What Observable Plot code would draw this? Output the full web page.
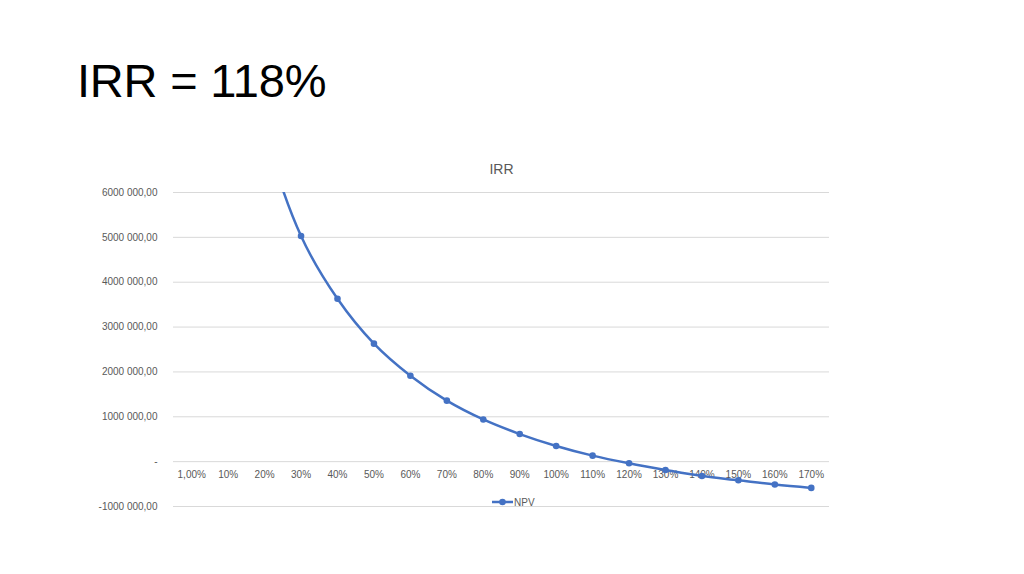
<!DOCTYPE html>
<html>
<head>
<meta charset="utf-8">
<script src="https://cdn.jsdelivr.net/npm/d3@7"></script>
<script src="https://cdn.jsdelivr.net/npm/@observablehq/plot@0.6"></script>
<style>
  html, body { margin: 0; padding: 0; background: #fff; }
  #wrap { position: relative; width: 1024px; height: 574px; overflow: hidden; font-family: "Liberation Sans", Arial, sans-serif; }
  #title { position: absolute; left: 77px; top: 57px; font-size: 47px; color: #000; line-height: 1; letter-spacing: -0.2px; }
  #legend { position: absolute; left: 491px; top: 495px; font-size: 10px; color: #595959; display: flex; align-items: center; }
  #chart { position: absolute; left: 0; top: 0; }
</style>
</head>
<body>
<div id="wrap">
  <div id="chart"></div>
  <div id="title">IRR = 118%</div>
  <div id="legend"><svg width="23" height="14"><line x1="1" y1="7" x2="22" y2="7" stroke="#4472C4" stroke-width="2.5"/><circle cx="11.5" cy="7" r="3.3" fill="#4472C4"/></svg><span>NPV</span></div>
</div>
<script>
const categories = ["1,00%", "10%", "20%", "30%", "40%", "50%", "60%", "70%", "80%", "90%", "100%", "110%", "120%", "130%", "140%", "150%", "160%", "170%"];
const npv = [17000000, 11500000, 7400000, 5030000, 3630000, 2630000, 1915000, 1360000, 940000, 615000, 350000, 134000, -37000, -185000, -320000, -415000, -510000, -585000];
const yTicks = [-1000000, 0, 1000000, 2000000, 3000000, 4000000, 5000000, 6000000];
const chartTitle = "IRR";

const data = categories.map((c, i) => ({rate: c, npv: npv[i]}));

function fmt(d) {
  if (d === 0) return "-";
  const sign = d < 0 ? "-" : "";
  const s = Math.abs(d);
  return `${sign}${Math.floor(s / 1000)} ${String(s % 1000).padStart(3, "0")},00`;
}

const blue = "#4472C4";
const grey = "#595959";

const chart = Plot.plot({
  width: 1024,
  height: 574,
  marginLeft: 173,
  marginRight: 195,
  marginTop: 192,
  marginBottom: 68,
  style: {fontFamily: "'Liberation Sans', Arial, sans-serif", fontSize: "10px", color: grey, background: "transparent"},
  x: {type: "point", domain: categories, padding: 0.5, round: false, axis: null},
  y: {domain: [-1000000, 6000000], axis: null},
  marks: [
    Plot.ruleY(yTicks, {stroke: "#d9d9d9", strokeWidth: 1}),
    Plot.axisY(yTicks, {tickFormat: fmt, tickSize: 0, tickPadding: 16, fill: grey, fontSize: 10, label: null}),
    Plot.text(categories, {x: d => d, y: () => 0, dy: 13, fill: grey, fontSize: 10}),
    Plot.line(data, {x: "rate", y: "npv", stroke: blue, strokeWidth: 2.5, curve: "catmull-rom", clip: true}),
    Plot.dot(data, {x: "rate", y: "npv", r: 3.3, fill: blue, clip: true}),
    Plot.text([chartTitle], {frameAnchor: "top", dy: -28, fill: grey, fontSize: 14})
  ]
});
document.getElementById("chart").appendChild(chart);
</script>
</body>
</html>
